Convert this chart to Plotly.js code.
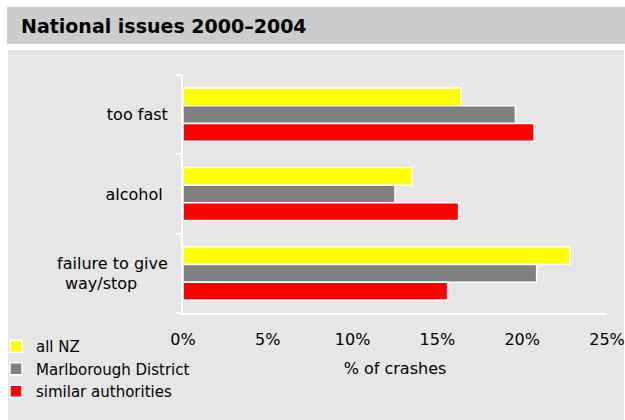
<!DOCTYPE html>
<html>
<head>
<meta charset="utf-8">
<script src="https://cdn.plot.ly/plotly-3.0.1.min.js"></script>
<style>
  html, body { margin: 0; padding: 0; background: #ffffff; }
  #chart { width: 625px; height: 420px; }
</style>
</head>
<body>
<div id="chart"></div>
<script>
// ---- data ----
const categories = ["too fast", "alcohol", "failure to give way/stop"];
const tickLabels = ["too fast", "alcohol\u00a0", "failure to give<br>way/stop\u00a0\u00a0\u00a0\u00a0\u00a0\u00a0"];
const seriesNames = ["all NZ", "Marlborough District", "similar authorities"];
const allNZ = [16.4, 13.5, 22.8];
const marlborough = [19.6, 12.5, 20.85];
const similar = [20.7, 16.25, 15.6];
const seriesColors = ["#ffff00", "#808080", "#ff0000"];
const xTickVals = [0, 5, 10, 15, 20, 25];

// ---- layout geometry (pixels) ----
const W = 625, H = 420;
const M = { l: 183, r: 18, t: 75, b: 107, autoexpand: false };
const pw = W - M.l - M.r, ph = H - M.t - M.b;
const px = x => (x - M.l) / pw;            // pixel x -> paper fraction
const py = y => (H - M.b - y) / ph;        // pixel y -> paper fraction

const values = [allNZ, marlborough, similar];
const traces = seriesNames.map((name, i) => ({
  type: "bar",
  orientation: "h",
  name: name,
  y: categories,
  x: values[i],
  marker: { color: seriesColors[i], line: { color: "#ffffff", width: 1.5 } },
  hoverinfo: "x+name"
}));

const fam = "DejaVu Sans, Verdana, sans-serif";
const font = { family: fam, size: 16, color: "#000000" };

const layout = {
  width: W, height: H,
  margin: M,
  paper_bgcolor: "#ffffff",
  plot_bgcolor: "rgba(0,0,0,0)",
  font: font,
  barmode: "group",
  bargap: 0.33,
  bargroupgap: 0,
  showlegend: true,
  legend: {
    x: px(-4), y: py(330), xanchor: "left", yanchor: "top",
    bgcolor: "rgba(0,0,0,0)",
    font: { family: fam, size: 15, color: "#000" },
    itemwidth: 30,
    tracegroupgap: 0,
    traceorder: "normal"
  },
  title: {
    text: "<b>National issues 2000\u20132004</b>",
    font: { family: fam, size: 19, color: "#000" },
    x: 21 / W, xanchor: "left",
    y: 1 - 26.5 / H, yanchor: "middle"
  },
  xaxis: {
    range: [0, 25],
    tickvals: xTickVals,
    ticktext: xTickVals.map(v => v + "%"),
    showgrid: false,
    zeroline: false,
    showline: true,
    linecolor: "#ffffff",
    linewidth: 2,
    ticks: "",
    ticklabelstandoff: 11,
    tickfont: font,
    fixedrange: true,
    title: { text: "% of crashes", font: font, standoff: 15 }
  },
  yaxis: {
    type: "category",
    autorange: "reversed",
    tickvals: categories,
    ticktext: tickLabels,
    showgrid: false,
    zeroline: false,
    showline: true,
    linecolor: "#ffffff",
    linewidth: 2,
    ticks: "outside",
    tickson: "boundaries",
    ticklen: 5,
    tickwidth: 2,
    tickcolor: "#ffffff",
    ticklabelstandoff: 10,
    tickfont: font,
    fixedrange: true
  },
  shapes: [
    { type: "rect", xref: "paper", yref: "paper", layer: "below",
      x0: px(7), x1: px(625), y0: py(44), y1: py(7),
      fillcolor: "#cccccc", line: { width: 0 } },
    { type: "rect", xref: "paper", yref: "paper", layer: "below",
      x0: px(8), x1: px(624), y0: py(420), y1: py(50),
      fillcolor: "#e6e6e6", line: { width: 0 } }
  ]
};

Plotly.newPlot("chart", traces, layout, { displayModeBar: false, staticPlot: true });
</script>
</body>
</html>
